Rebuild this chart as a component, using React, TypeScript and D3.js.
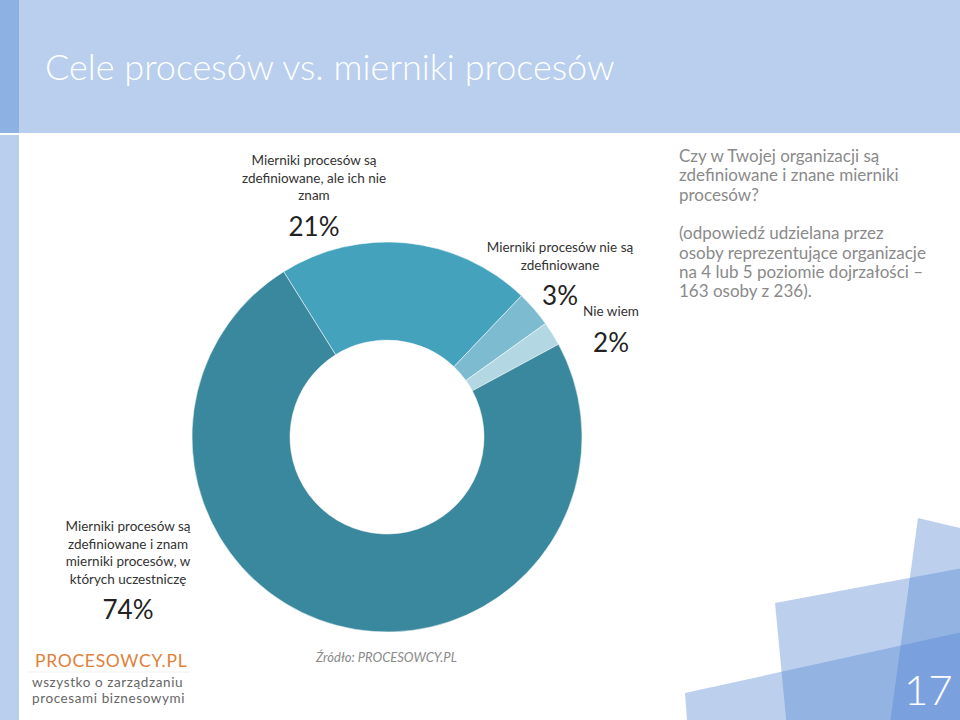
import * as React from "react";
import * as d3 from "d3";

const categories = [
  "Mierniki procesów są zdefiniowane, ale ich nie znam",
  "Mierniki procesów nie są zdefiniowane",
  "Nie wiem",
  "Mierniki procesów są zdefiniowane i znam mierniki procesów, w których uczestniczę",
];
const values = [21, 3, 2, 74];
const sliceColors = ["#45a2bd", "#7dbcd0", "#b3d8e4", "#3a889d"];

const labelLines = [
  ["Mierniki procesów są", "zdefiniowane, ale ich nie", "znam"],
  ["Mierniki procesów nie są", "zdefiniowane"],
  ["Nie wiem"],
  ["Mierniki procesów są", "zdefiniowane i znam", "mierniki procesów, w", "których uczestniczę"],
];
const labelPos = [
  { x: 314, y: 165 },
  { x: 560, y: 252 },
  { x: 611, y: 316 },
  { x: 128, y: 531 },
];

const questionLines = [
  "Czy w Twojej organizacji są",
  "zdefiniowane i znane mierniki",
  "procesów?",
  "",
  "(odpowiedź udzielana przez",
  "osoby reprezentujące organizacje",
  "na 4 lub 5 poziomie dojrzałości –",
  "163 osoby z 236).",
];

const FONT = "Lato, 'Open Sans', sans-serif";

export default function App() {
  const width = 960;
  const height = 720;
  const cx = 387;
  const cy = 437;
  const outerR = 195;
  const innerR = 97;
  const start = (-32 * Math.PI) / 180;

  const pie = d3
    .pie<number>()
    .sort(null)
    .value((d) => d)
    .startAngle(start)
    .endAngle(start + 2 * Math.PI);
  const arcs = pie(values);
  const arc = d3.arc<d3.PieArcDatum<number>>().innerRadius(innerR).outerRadius(outerR);

  const shapeFill = "rgb(82,134,211)";

  return (
    <svg
      width={width}
      height={height}
      style={{ position: "absolute", left: 0, top: 0, background: "#fff" }}
      fontFamily={FONT}
    >
      {/* header */}
      <rect x={0} y={0} width={width} height={133} fill="#b9cfed" />
      <rect x={0} y={0} width={19} height={133} fill="#8db1e2" />
      <rect x={0} y={135} width={19} height={height - 135} fill="#b9cfed" />
      <text x={45} y={80} fill="#fff" fontSize={36} fontWeight={300}>
        Cele procesów vs. mierniki procesów
      </text>

      {/* decorative shapes bottom-right */}
      <g fill={shapeFill} fillOpacity={0.39}>
        <polygon points="918,518 990,535 960,760 885,760" />
        <polygon points="775,603 990,563 990,760 790,760" />
        <polygon points="685,693 990,626 990,760 690,760" />
      </g>
      <text x={904} y={705} fill="#fff" fontSize={42} fontWeight={300}>
        17
      </text>

      {/* donut */}
      <g transform={`translate(${cx},${cy})`}>
        {arcs.map((a, i) => (
          <path
            key={categories[i]}
            d={arc(a) || ""}
            fill={sliceColors[i]}
            stroke="#ffffff"
            strokeOpacity={0.5}
            strokeWidth={1}
          />
        ))}
      </g>

      {/* labels */}
      {labelLines.map((lines, i) => (
        <g key={i} textAnchor="middle">
          {lines.map((l, j) => (
            <text key={j} x={labelPos[i].x} y={labelPos[i].y + j * 17.5} fontSize={13.5} fill="#333">
              {l}
            </text>
          ))}
          <text
            x={labelPos[i].x}
            y={labelPos[i].y + lines.length * 17.5 + 18}
            fontSize={26}
            fill="#222"
          >
            {values[i]}%
          </text>
        </g>
      ))}

      {/* question text */}
      {questionLines.map((l, j) => (
        <text key={j} x={679} y={162 + j * 19.3} fontSize={17} fill="#8a8a8a">
          {l}
        </text>
      ))}

      {/* source */}
      <text x={316} y={662} fontSize={13} fontStyle="italic" fill="#8a8a8a">
        Źródło: PROCESOWCY.PL
      </text>

      {/* logo */}
      <text x={35} y={667} fontSize={17.5} letterSpacing={0.7} fill="#e0813a">
        PROCESOWCY.PL
      </text>
      <line x1={28} x2={190} y1={672} y2={672} stroke="#f0f0f0" strokeWidth={1} />
      <text x={32} y={687} fontSize={13.5} letterSpacing={0.6} fill="#666">
        wszystko o zarządzaniu
      </text>
      <text x={32} y={703} fontSize={13.5} letterSpacing={0.6} fill="#666">
        procesami biznesowymi
      </text>
    </svg>
  );
}
